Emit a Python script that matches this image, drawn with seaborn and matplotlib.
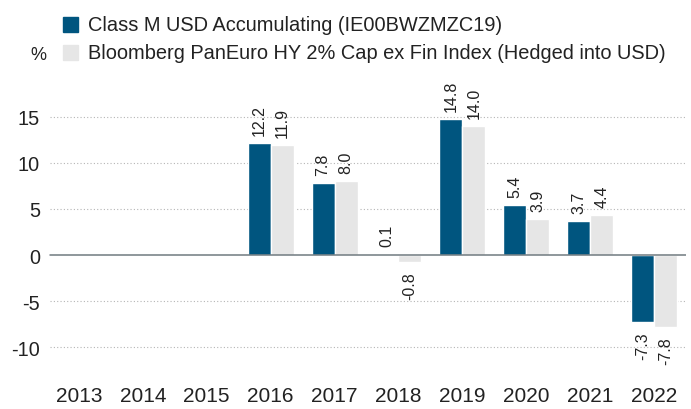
import matplotlib
matplotlib.use("Agg")
import matplotlib.pyplot as plt
import seaborn as sns
import pandas as pd
import numpy as np

years = ["2013", "2014", "2015", "2016", "2017", "2018", "2019", "2020", "2021", "2022"]
fund = [np.nan, np.nan, np.nan, 12.2, 7.8, 0.1, 14.8, 5.4, 3.7, -7.3]
index = [np.nan, np.nan, np.nan, 11.9, 8.0, -0.8, 14.0, 3.9, 4.4, -7.8]
series_names = ["Class M USD Accumulating (IE00BWZMZC19)",
                "Bloomberg PanEuro HY 2% Cap ex Fin Index (Hedged into USD)"]
colors = ["#00557f", "#e6e6e6"]

df = pd.DataFrame({
    "year": years * 2,
    "value": fund + index,
    "series": [series_names[0]] * len(years) + [series_names[1]] * len(years),
})

sns.set_theme(style="white")
plt.rcParams['font.family'] = ['Liberation Sans', 'DejaVu Sans']

W, H = 691, 410
fig = plt.figure(figsize=(W / 100, H / 100), dpi=100)
# axes: x 47..686 px, y from 365 (bottom) to 90 (top)
ax = fig.add_axes([47 / W, (H - 365) / H, 639 / W, 275 / H])

sns.barplot(data=df, x="year", y="value", hue="series", order=years,
            hue_order=series_names, palette=colors, width=0.72,
            saturation=1, ax=ax, legend=False, errorbar=None)

ax.set_xlim(-0.5, 9.5)
ax.set_ylim(-11.8, 18.0)
ax.set_yticks([-10, -5, 0, 5, 10, 15])
ax.set_yticklabels(["-10", "-5", "0", "5", "10", "15"])
for yv in [-10, -5, 5, 10, 15]:
    ax.axhline(yv, color="#b5b5b5", lw=0.8, ls=(0, (1, 2)), zorder=0, xmin=0.005, xmax=1.1)
ax.axhline(0, color="#707a80", lw=1.1, zorder=3, xmin=0.005)

for s in ax.spines.values():
    s.set_visible(False)
ax.set_xlabel("")
ax.set_ylabel("")
ax.tick_params(axis="y", length=0, labelsize=14.3, colors="#222222", pad=5)
ax.tick_params(axis="x", length=0, labelsize=15, colors="#222222", pad=16)

for cont in ax.containers:
    for bar in cont:
        h = bar.get_height()
        if np.isnan(h):
            continue
        x = bar.get_x() + bar.get_width() / 2
        if h >= 0:
            ax.text(x, h + 0.85, f"{h:.1f}", rotation=90, ha="center", va="bottom",
                    fontsize=11.5, color="#222222")
        else:
            ax.text(x, h - 1.0, f"{h:.1f}", rotation=90, ha="center", va="top",
                    fontsize=11.5, color="#222222")

# legend
fig.patches.append(plt.Rectangle((63 / W, 1 - 33 / H), 15 / W, 15 / H,
                                 transform=fig.transFigure, color=colors[0]))
fig.patches.append(plt.Rectangle((63 / W, 1 - 61 / H), 15 / W, 15 / H,
                                 transform=fig.transFigure, color=colors[1]))
fig.text(88 / W, 1 - 25.5 / H, series_names[0], fontsize=14.45, va="center", color="#222222")
fig.text(88 / W, 1 - 53.5 / H, series_names[1], fontsize=14.45, va="center", color="#222222")
fig.text(30 / W, 1 - 56 / H, "%", fontsize=13, va="center", color="#222222")

fig.savefig("out.png", dpi=100)
